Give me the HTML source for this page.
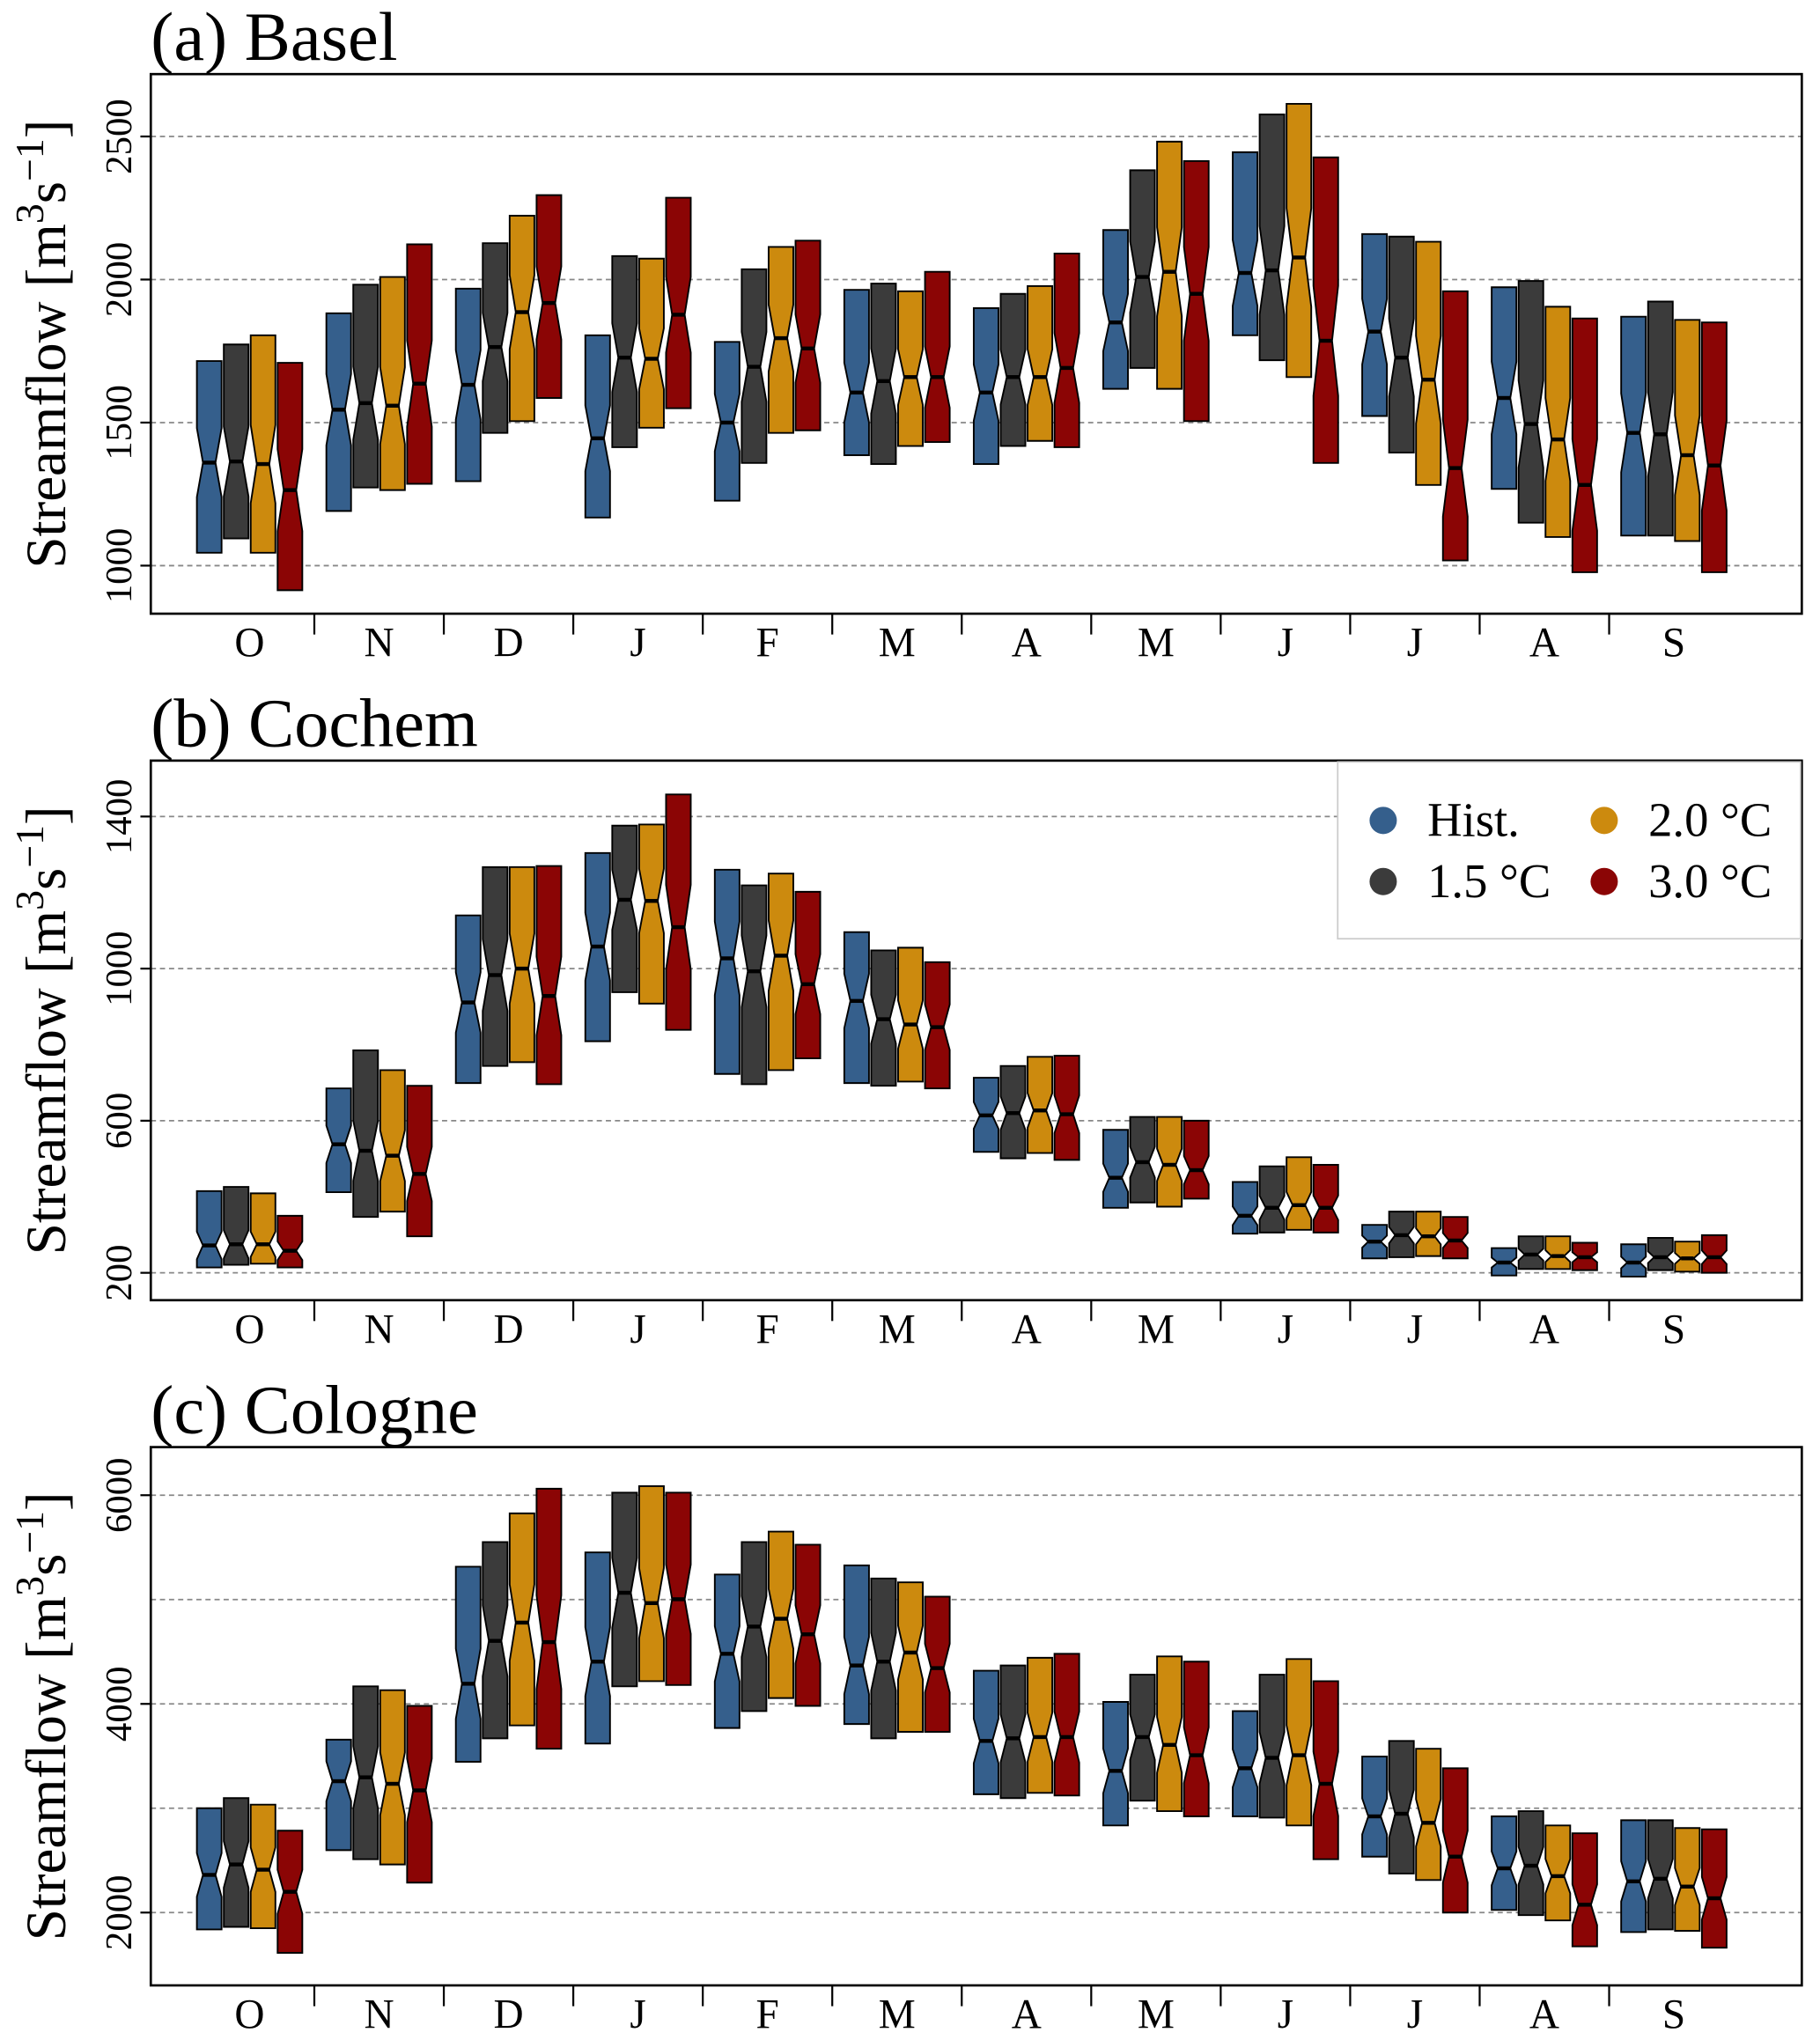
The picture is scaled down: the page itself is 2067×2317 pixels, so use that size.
<!DOCTYPE html>
<html><head><meta charset="utf-8"><style>
html,body{margin:0;padding:0;background:#fff;}
svg{display:block;}
text{font-family:"Liberation Serif",serif;fill:#000;}
</style></head><body>
<svg id="chart" xmlns="http://www.w3.org/2000/svg" width="2067" height="2317" viewBox="0 0 1400 1569" preserveAspectRatio="none"></svg>
<script>
const months = ["O","N","D","J","F","M","A","M","J","J","A","S"];
const scenarios = ["Hist.","1.5 °C","2.0 °C","3.0 °C"];
const colors = ["#355f8c","#3b3b3b","#cc8a0e","#8b0505"];
// [q1, median, q3] per month per scenario
const baselData = [
 [[1045,1360,1715],[1095,1364,1773],[1045,1355,1805],[914,1264,1709]],
 [[1191,1545,1882],[1273,1568,1982],[1264,1559,2009],[1286,1636,2123]],
 [[1295,1632,1968],[1464,1764,2127],[1505,1886,2223],[1586,1918,2295]],
 [[1168,1445,1805],[1414,1727,2082],[1482,1723,2073],[1550,1877,2286]],
 [[1227,1500,1782],[1359,1695,2036],[1464,1795,2114],[1473,1759,2136]],
 [[1386,1605,1964],[1355,1645,1986],[1418,1659,1959],[1432,1659,2027]],
 [[1355,1605,1900],[1418,1659,1950],[1436,1659,1977],[1414,1691,2091]],
 [[1618,1850,2173],[1691,2009,2382],[1618,2027,2482],[1505,1950,2414]],
 [[1805,2023,2445],[1718,2032,2577],[1659,2077,2614],[1359,1786,2427]],
 [[1523,1818,2159],[1395,1727,2150],[1282,1650,2132],[1018,1341,1959]],
 [[1268,1586,1973],[1150,1495,1995],[1100,1441,1905],[977,1282,1864]],
 [[1105,1464,1870],[1105,1459,1923],[1086,1386,1859],[977,1350,1850]]
];
const cochemData = [
 [[214,272,415],[221,275,426],[224,275,409],[214,258,350]],
 [[412,538,685],[347,521,785],[361,508,733],[296,460,692]],
 [[699,911,1140],[744,983,1267],[754,1000,1267],[696,928,1270]],
 [[809,1058,1304],[938,1181,1376],[908,1178,1379],[839,1109,1458]],
 [[723,1027,1260],[696,993,1219],[733,1034,1250],[764,959,1202]],
 [[699,915,1096],[692,867,1048],[703,853,1055],[685,846,1017]],
 [[518,614,713],[501,620,744],[515,627,768],[497,617,771]],
 [[371,450,576],[385,491,610],[374,484,610],[395,470,600]],
 [[303,350,439],[306,371,480],[313,378,504],[306,371,484]],
 [[238,282,326],[241,299,361],[244,296,361],[238,285,347]],
 [[193,227,265],[210,248,296],[210,244,296],[207,241,279]],
 [[190,227,275],[207,241,292],[203,238,282],[200,241,299]]
];
const cologneData = [
 [[1838,2361,3000],[1863,2461,3097],[1850,2411,3034],[1614,2199,2785]],
 [[2598,3259,3657],[2511,3296,4168],[2461,3234,4131],[2287,3171,3981]],
 [[3445,4193,5315],[3670,4604,5551],[3794,4779,5826],[3570,4592,6062]],
 [[3620,4405,5452],[4168,5065,6025],[4218,4966,6087],[4181,5003,6025]],
 [[3769,4480,5240],[3931,4741,5551],[4056,4816,5651],[3981,4667,5526]],
 [[3807,4368,5327],[3670,4405,5202],[3732,4492,5165],[3732,4343,5028]],
 [[3134,3645,4318],[3097,3670,4368],[3147,3682,4442],[3122,3682,4480]],
 [[2835,3358,4019],[3072,3682,4280],[2972,3607,4455],[2922,3508,4405]],
 [[2922,3383,3931],[2910,3483,4280],[2835,3508,4430],[2511,3234,4218]],
 [[2536,2922,3495],[2374,2947,3645],[2312,2860,3570],[2000,2536,3383]],
 [[2025,2424,2922],[1975,2449,2972],[1925,2349,2835],[1676,2075,2760]],
 [[1813,2299,2885],[1838,2324,2885],[1825,2249,2810],[1663,2137,2798]]
];
const baselTicks = [1000,1500,2000,2500];
const cochemTicks = [200,600,1000,1400];
const cologneTicks = [2000,4000,6000];
const cologneGrid = [2000,3000,4000,5000,6000];

const NS="http://www.w3.org/2000/svg";
const svg=document.getElementById('chart');
function el(tag,attrs,parent){const e=document.createElementNS(NS,tag);for(const k in attrs)e.setAttribute(k,attrs[k]);(parent||svg).appendChild(e);return e;}

const X0=116,X1=1386;
function xCenter(i){return 192+i*99.6;}

const panels=[
 {name:"basel",title:"(a) Basel",top:57,bot:472,vmin:832,vmax:2718,data:baselData,ticks:baselTicks,grid:baselTicks,legend:false},
 {name:"cochem",title:"(b) Cochem",top:585,bot:1000,vmin:128,vmax:1547,data:cochemData,ticks:cochemTicks,grid:cochemTicks,legend:true},
 {name:"cologne",title:"(c) Cologne",top:1113,bot:1527,vmin:1302,vmax:6461,data:cologneData,ticks:cologneTicks,grid:cologneGrid,legend:false}
];

panels.forEach(p=>{
 const g=el('g',{});
 
 
 const y=v=>p.bot-(v-p.vmin)/(p.vmax-p.vmin)*(p.bot-p.top);
 p.grid.forEach(v=>{
  const l=el('line',{x1:X0,x2:X1,y1:y(v),y2:y(v),stroke:'#888','stroke-width':1.2,'stroke-dasharray':'4,3'},g);
  
  
 });
 const t=el('text',{x:116,y:p.top-11,'font-size':53},g);
 t.textContent=p.title;
 
 
 const yt=el('text',{x:0,y:0,'font-size':44,'text-anchor':'middle',transform:`translate(50,${(p.top+p.bot)/2}) rotate(-90)`},g);
 yt.innerHTML='Streamflow [m<tspan baseline-shift="super" font-size="31">3</tspan>s<tspan baseline-shift="super" font-size="31">−1</tspan>]';
 
 
 p.ticks.forEach(v=>{
  const tk=el('line',{x1:X0-8,x2:X0,y1:y(v),y2:y(v),stroke:'#000','stroke-width':1.5},g);
  
  
  const tl=el('text',{x:0,y:0,'font-size':29,'text-anchor':'middle',transform:`translate(101,${y(v)}) rotate(-90)`},g);
  tl.textContent=v;
  
  
 });
 months.forEach((m,i)=>{
  const xl=el('text',{x:xCenter(i),y:p.bot+33,'font-size':32,'text-anchor':'middle'},g);
  xl.textContent=m;
  
  
  if(i<months.length-1){
   const xt=el('line',{x1:xCenter(i)+49.8,x2:xCenter(i)+49.8,y1:p.bot,y2:p.bot+16,stroke:'#000','stroke-width':1.5},g);
   
   
  }
 });
 p.data.forEach((grp,i)=>{
  grp.forEach((d,k)=>{
   const cx=xCenter(i)+(k-1.5)*20.7, hw=9.5, nw=4.8;
   const [q1,md,q3]=d;
   const yq1=y(q1),yq3=y(q3),ym=y(md);
   const n=0.18*(yq1-yq3);
   const nt=Math.max(yq3,ym-n), nb=Math.min(yq1,ym+n);
   const path=`M${cx-hw},${yq3}L${cx+hw},${yq3}L${cx+hw},${nt}L${cx+nw},${ym}L${cx+hw},${nb}L${cx+hw},${yq1}L${cx-hw},${yq1}L${cx-hw},${nb}L${cx-nw},${ym}L${cx-hw},${nt}Z`;
   const b=el('path',{d:path,fill:colors[k],stroke:'#000','stroke-width':1.3},g);
   
   
   const ml=el('line',{x1:cx-nw,x2:cx+nw,y1:ym,y2:ym,stroke:'#000','stroke-width':3},g);
   
   
  });
 });
 const fr=el('rect',{x:X0,y:p.top,width:X1-X0,height:p.bot-p.top,fill:'none',stroke:'#000','stroke-width':1.8},g);
 
 
 if(p.legend){
  const lg=el('g',{},g);
  
  
  el('rect',{x:1029,y:586,width:356,height:136,fill:'#fff',stroke:'#ccc','stroke-width':1.2},lg);
  const pos=[[1064,631],[1064,678],[1234,631],[1234,678]];
  scenarios.forEach((s,k)=>{
   const c=el('circle',{cx:pos[k][0],cy:pos[k][1],r:10.5,fill:colors[k]},lg);
   
   
   const tx=el('text',{x:pos[k][0]+34,y:pos[k][1]+12,'font-size':37},lg);
   tx.textContent=s;
   
   
  });
 }
});
</script>
</body></html>
